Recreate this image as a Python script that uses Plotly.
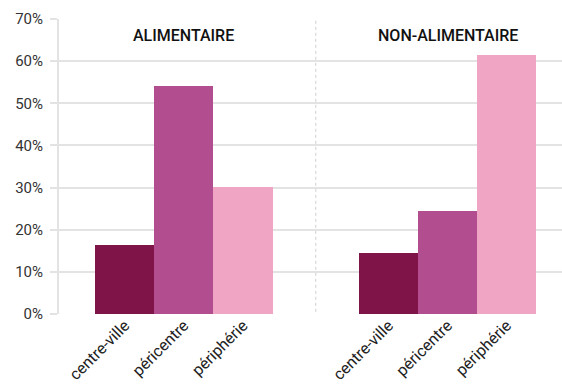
import plotly.graph_objects as go

groups = ["ALIMENTAIRE", "NON-ALIMENTAIRE"]
zones = ["centre-ville", "péricentre", "périphérie"]
values = {
    "centre-ville": [16.4, 14.5],
    "péricentre": [54.2, 24.5],
    "périphérie": [30.1, 61.5],
}
colors = ["#7f1449", "#b24d90", "#f0a5c5"]
y_ticks = [0, 10, 20, 30, 40, 50, 60, 70]

bar_w = 0.224
offsets = [-bar_w, 0.0, bar_w]

fig = go.Figure()
tickvals, ticktext = [], []
for j, z in enumerate(zones):
    xs = [i + offsets[j] for i in range(len(groups))]
    fig.add_trace(go.Bar(
        x=xs, y=values[z], width=bar_w, marker=dict(color=colors[j], line=dict(width=0)),
        name=z, showlegend=False, hoverinfo="y"))
    tickvals += xs
    ticktext += [z] * len(groups)

for i, g in enumerate(groups):
    fig.add_annotation(x=i, y=66.2, text=g, showarrow=False,
                       font=dict(family="Roboto", size=16, color="#111", weight=500),
                       xanchor="center", yanchor="middle")

fig.add_shape(type="line", x0=0.5, x1=0.5, y0=-0.9, y1=70, xref="x", yref="y",
              line=dict(color="#cfcfcf", width=1, dash="dot"), layer="below")

fig.update_layout(
    width=562, height=387,
    margin=dict(l=59, r=0, t=19, b=73),
    paper_bgcolor="white", plot_bgcolor="white",
    bargap=0,
    font=dict(family="Roboto", size=14, color="#333"),
    xaxis=dict(range=[-0.474, 1.434], tickvals=tickvals, ticktext=ticktext,
               tickangle=-45, showgrid=False, zeroline=False, showline=False,
               ticks="", tickfont=dict(size=16, color="#222"), ticklabelstandoff=-2),
    yaxis=dict(range=[0, 70], tickvals=y_ticks, ticktext=[f"{v}%" for v in y_ticks],
               showgrid=True, gridcolor="#e3e3e3", gridwidth=1.5,
               zeroline=False, showline=True, linecolor="#e3e3e3", linewidth=2,
               ticks="outside", ticklen=7, tickcolor="#e3e3e3", tickwidth=1.5,
               ticklabelstandoff=4,
               tickfont=dict(size=15, color="#333")),
)

fig.write_html("out.html")
